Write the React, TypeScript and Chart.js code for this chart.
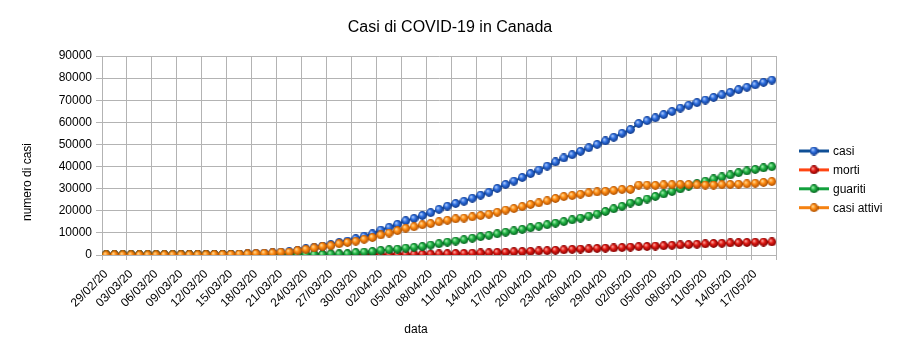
import React, { useEffect, useRef } from "react";
import { Chart, registerables } from "chart.js";

Chart.register(...registerables);

const categories = [
  "29/02/20",
  "01/03/20", "02/03/20", "03/03/20", "04/03/20", "05/03/20", "06/03/20", "07/03/20", "08/03/20", "09/03/20", "10/03/20",
  "11/03/20", "12/03/20", "13/03/20", "14/03/20", "15/03/20", "16/03/20", "17/03/20", "18/03/20", "19/03/20", "20/03/20",
  "21/03/20", "22/03/20", "23/03/20", "24/03/20", "25/03/20", "26/03/20", "27/03/20", "28/03/20", "29/03/20", "30/03/20", "31/03/20",
  "01/04/20", "02/04/20", "03/04/20", "04/04/20", "05/04/20", "06/04/20", "07/04/20", "08/04/20", "09/04/20", "10/04/20",
  "11/04/20", "12/04/20", "13/04/20", "14/04/20", "15/04/20", "16/04/20", "17/04/20", "18/04/20", "19/04/20", "20/04/20",
  "21/04/20", "22/04/20", "23/04/20", "24/04/20", "25/04/20", "26/04/20", "27/04/20", "28/04/20", "29/04/20", "30/04/20",
  "01/05/20", "02/05/20", "03/05/20", "04/05/20", "05/05/20", "06/05/20", "07/05/20", "08/05/20", "09/05/20", "10/05/20",
  "11/05/20", "12/05/20", "13/05/20", "14/05/20", "15/05/20", "16/05/20", "17/05/20", "18/05/20", "19/05/20",
];

const casi = [
  20, 24, 27, 30, 33, 37, 49, 54, 64, 77, 79,
  108, 117, 193, 198, 252, 415, 478, 657, 800, 943,
  1277, 1469, 2091, 2792, 3409, 4043, 4757, 5655, 6320, 7398, 8527,
  9560, 11283, 12537, 13880, 15496, 16563, 17872, 19141, 20654, 22059,
  23316, 24298, 25680, 27063, 28364, 30106, 31927, 33383, 35056, 36831,
  38422, 40190, 42110, 43888, 45354, 46895, 48500, 50026, 51597, 53236,
  55061, 56714, 59474, 60772, 62046, 63496, 64922, 66434, 67702, 68918,
  70091, 71264, 72419, 73568, 74781, 75864, 76944, 78072, 79101,
];

const morti = [
  0, 0, 0, 0, 0, 0, 0, 0, 0, 1, 1,
  1, 1, 1, 1, 1, 4, 8, 9, 12, 12,
  19, 21, 24, 27, 38, 39, 54, 61, 65, 89, 101,
  112, 128, 181, 208, 258, 323, 381, 435, 504, 569,
  654, 714, 821, 906, 1010, 1195, 1310, 1470, 1560, 1690,
  1834, 1974, 2147, 2350, 2560, 2707, 2772, 2983, 3082, 3184,
  3391, 3566, 3766, 3862, 4043, 4167, 4408, 4569, 4693, 4871,
  5049, 5209, 5304, 5472, 5562, 5679, 5782, 5842, 5912,
];

const guariti = [
  3, 3, 3, 3, 6, 6, 6, 6, 8, 8, 8,
  8, 8, 8, 9, 9, 9, 11, 11, 11, 11,
  11, 112, 112, 185, 185, 185, 466, 492, 546, 1083, 1324,
  1560, 2100, 2422, 2675, 3130, 3450, 3800, 4500, 5100, 5800,
  6300, 6900, 7600, 8300, 8900, 9600, 10300, 10900, 11600, 12300,
  13000, 13700, 14400, 15100, 15900, 16700, 17600, 18500, 19700, 20900,
  22000, 23500, 24100, 25300, 26500, 27600, 28700, 29900, 31100, 32300,
  33400, 34400, 35300, 36200, 37200, 38000, 38700, 39400, 39950,
];

const casiAttivi = [
  17, 21, 24, 27, 27, 31, 43, 48, 56, 68, 70,
  99, 108, 184, 188, 242, 402, 459, 637, 777, 920,
  1247, 1336, 1955, 2580, 3186, 3819, 4237, 5102, 5709, 6226, 7102,
  7888, 9055, 9934, 10997, 12108, 12790, 13691, 14206, 15050, 15690,
  16362, 16684, 17259, 17857, 18454, 19311, 20317, 21013, 21896, 22841,
  23588, 24516, 25563, 26438, 26894, 27488, 28128, 28543, 28815, 29152,
  29670, 29648, 31608, 31610, 31503, 31729, 31814, 31965, 31909, 31747,
  31642, 31655, 31815, 31896, 32019, 32185, 32462, 32830, 33239,
];

const seriesNames = ["casi", "morti", "guariti", "casi attivi"];
const lineColors = ["#0f4f96", "#ff4512", "#12a03c", "#f58212"];
const ballColors = [
  { light: "#b7d2ff", base: "#2f6fdf", dark: "#0d3583" },
  { light: "#ffb0a8", base: "#e01a14", dark: "#7a0000" },
  { light: "#b0f5b8", base: "#22b445", dark: "#045a1c" },
  { light: "#ffe0a0", base: "#ff8c14", dark: "#a84c00" },
];

const FONT = "'Liberation Sans', Arial, sans-serif";
const GRID = "#b3b3b3";

function makeBall(c: { light: string; base: string; dark: string }, size = 9) {
  const cv = document.createElement("canvas");
  cv.width = size;
  cv.height = size;
  const g = cv.getContext("2d")!;
  const r = size / 2;
  const grad = g.createRadialGradient(r - 1.4, r - 1.6, 0.2, r, r, r);
  grad.addColorStop(0, c.light);
  grad.addColorStop(0.45, c.base);
  grad.addColorStop(1, c.dark);
  g.fillStyle = grad;
  g.beginPath();
  g.arc(r, r, r - 0.1, 0, Math.PI * 2);
  g.fill();
  return cv;
}

export default function App() {
  const ref = useRef<HTMLCanvasElement | null>(null);

  useEffect(() => {
    if (!ref.current) return;
    const balls = ballColors.map((c) => makeBall(c));
    const values = [casi, morti, guariti, casiAttivi];

    const textPlugin = {
      id: "texts",
      afterDraw(chart: any) {
        const ctx = chart.ctx;
        ctx.save();
        ctx.fillStyle = "#000";
        ctx.textBaseline = "middle";
        ctx.textAlign = "center";
        ctx.font = `16px ${FONT}`;
        ctx.fillText("Casi di COVID-19 in Canada", 450, 28);
        ctx.font = `12px ${FONT}`;
        ctx.fillText("data", 416, 330);
        ctx.save();
        ctx.translate(28, 182);
        ctx.rotate(-Math.PI / 2);
        ctx.fillText("numero di casi", 0, 0);
        ctx.restore();
        // legend
        ctx.textAlign = "left";
        seriesNames.forEach((name, i) => {
          const y = 151 + i * 18.9;
          ctx.strokeStyle = lineColors[i];
          ctx.lineWidth = 3;
          ctx.beginPath();
          ctx.moveTo(799, y);
          ctx.lineTo(829, y);
          ctx.stroke();
          const b = balls[i];
          ctx.drawImage(b, 814 - b.width / 2, y - b.height / 2);
          ctx.fillStyle = "#000";
          ctx.fillText(name, 833, y + 0.5);
        });
        ctx.restore();
      },
    };

    const chart = new Chart(ref.current, {
      type: "line",
      data: {
        labels: categories,
        datasets: seriesNames.map((name, i) => ({
          label: name,
          data: values[i],
          borderColor: lineColors[i],
          backgroundColor: ballColors[i].base,
          borderWidth: 2,
          pointStyle: balls[i] as any,
          pointRadius: 4,
          tension: 0,
          order: 4 - i,
        })),
      },
      options: {
        animation: false,
        responsive: false,
        layout: { padding: { top: 56, right: 125, left: 0, bottom: 0 } },
        plugins: {
          legend: { display: false },
          title: { display: false },
          tooltip: { enabled: false },
        },
        scales: {
          x: {
            type: "category",
            offset: true,
            grid: {
              offset: true,
              color: (c: any) =>
                c.index === undefined || c.index % 3 === 0 ? GRID : "rgba(0,0,0,0)",
              lineWidth: 1,
              tickLength: 5,
            },
            border: { color: GRID },
            ticks: {
              autoSkip: false,
              minRotation: 45,
              maxRotation: 45,
              padding: 7,
              color: "#000",
              font: { family: FONT, size: 12 },
              callback: (_v: any, i: number) => (i % 3 === 0 ? categories[i] : ""),
            },
            afterFit: (s: any) => {
              s.height = 102;
            },
          },
          y: {
            min: 0,
            max: 90000,
            grid: { color: GRID, tickLength: 6 },
            border: { color: GRID },
            ticks: {
              stepSize: 10000,
              padding: 4,
              color: "#000",
              font: { family: FONT, size: 12 },
              callback: (v: any) => String(v),
            },
            afterFit: (s: any) => {
              s.width = 102;
            },
          },
        },
      },
      plugins: [textPlugin],
    });
    return () => chart.destroy();
  }, []);

  return (
    <div style={{ position: "absolute", left: 0, top: 0, width: 901, height: 357, background: "#fff" }}>
      <canvas ref={ref} width={901} height={357} style={{ display: "block" }} />
    </div>
  );
}
